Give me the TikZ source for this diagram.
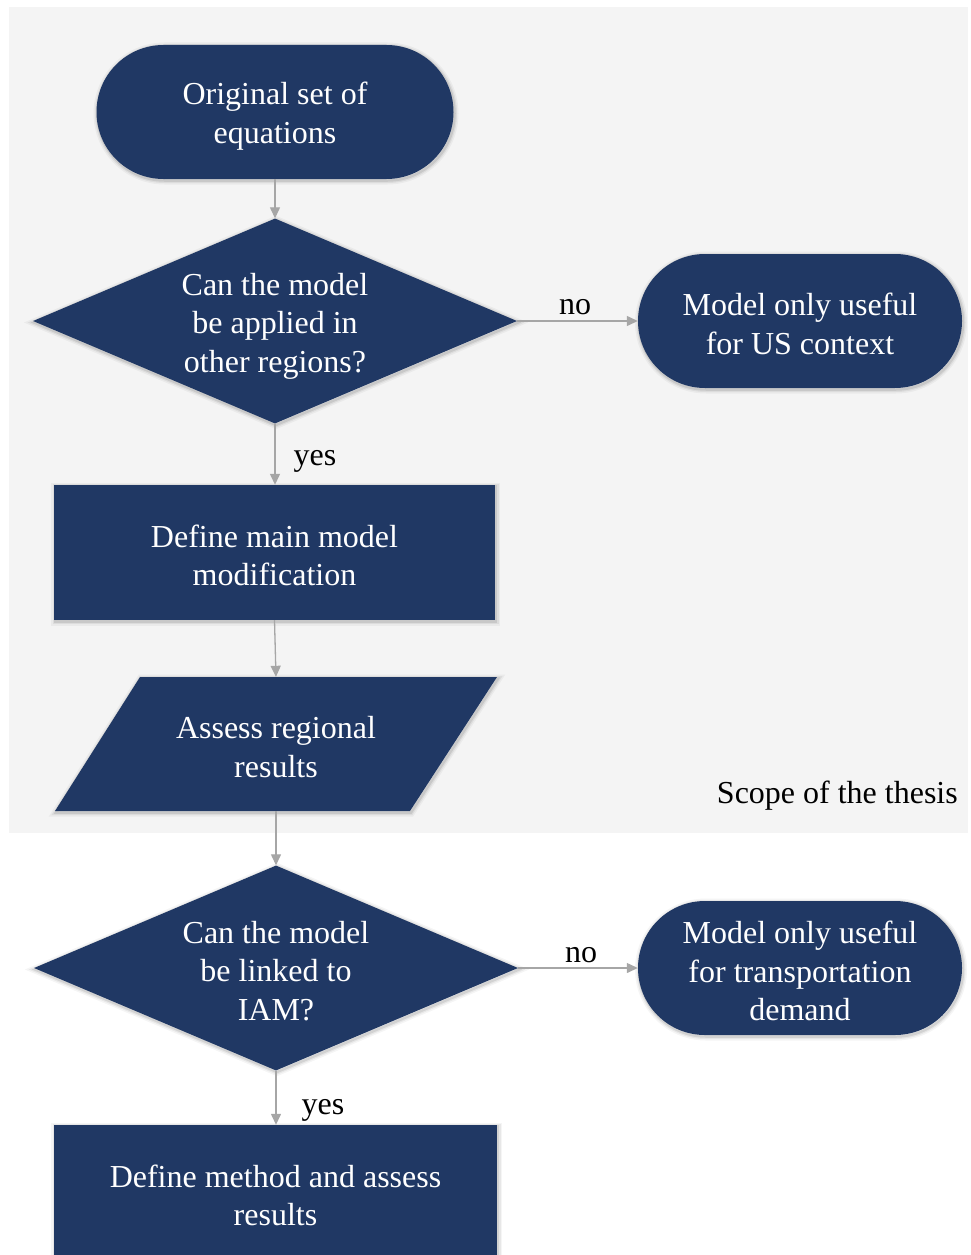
\documentclass[tikz,border=0pt]{standalone}
\usepackage{fontspec}
\setmainfont{Liberation Serif}
\usetikzlibrary{shapes.geometric,shapes.misc,arrows.meta}
\definecolor{navy}{HTML}{203864}
\definecolor{bggray}{HTML}{F4F4F4}
\definecolor{arrgray}{HTML}{A6A6A6}
\begin{document}
\begin{tikzpicture}[x=1pt,y=-1pt,
  every node/.style={font=\fontsize{32}{38.5}\selectfont},
  shadowed/.style={
    preaction={draw=black, draw opacity=0.04, line width=8pt, transform canvas={xshift=1pt,yshift=-1.5pt}},
    preaction={draw=black, draw opacity=0.06, line width=5pt, transform canvas={xshift=1pt,yshift=-1.5pt}},
    preaction={draw=black, draw opacity=0.09, line width=2.5pt, transform canvas={xshift=1pt,yshift=-1.5pt}}},
  shapebase/.style={fill=navy, inner sep=0pt, shadowed},
  term/.style={shapebase, rounded rectangle, rounded rectangle arc length=180, minimum height=134pt},
  procbox/.style={shapebase, rectangle, minimum height=135pt},
  decision/.style={shapebase, diamond, aspect=2.36, minimum width=484pt, minimum height=205pt},
  iobox/.style={rectangle, inner sep=0pt, minimum width=442pt, minimum height=134pt},
  intext/.style={text=white, align=center, inner sep=0pt, yshift=-3pt},
  conn/.style={draw=arrgray, line width=1.3pt, -{Triangle[length=11pt,width=10pt]}, fill=arrgray},
  lbl/.style={text=black, inner sep=0pt}
]
\useasboundingbox (0,0) rectangle (970,1255);
\clip (0,0) rectangle (970,1255);
\fill[bggray] (9,7) rectangle (968,833);

\node[term, minimum width=357pt] (t1) at (275,112) {};
\node[intext, yshift=-1pt] (t1txt) at (t1) {Original set of\\equations};
\node[decision] (d1) at (275,321) {};
\node[intext, yshift=-2pt] (d1txt) at (d1) {Can the model\\be applied in\\other regions?};
\node[term, minimum width=324pt] (t2) at (800,321) {};
\node[intext] (t2txt) at (t2) {Model only useful\\for US context};
\node[procbox, minimum width=441pt] (r1) at (274.5,552.5) {};
\node[intext] (r1txt) at (r1) {Define main model\\modification};
\fill[navy, shadowed] (140,677) -- (497,677) -- (410,811) -- (55,811) -- cycle;
\node[iobox] (p1) at (276,744) {};
\node[intext] (p1txt) at (p1) {Assess regional\\results};
\node[lbl, anchor=east] (scope) at (958,796) {Scope of the thesis};
\node[decision] (d2) at (276,968) {};
\node[intext] (d2txt) at (d2) {Can the model\\be linked to\\IAM?};
\node[term, minimum width=324pt] (t3) at (800,968) {};
\node[intext] (t3txt) at (t3) {Model only useful\\for transportation\\demand};
\node[procbox, minimum width=443pt] (r2) at (275.5,1192.5) {};
\node[intext] (r2txt) at (r2) {Define method and assess\\results};

\node[lbl] (no1) at (575,307) {no};
\node[lbl] (yes1) at (315,461) {yes};
\node[lbl] (no2) at (581,955) {no};
\node[lbl] (yes2) at (323,1110) {yes};

\draw[conn] (t1.south) -- (d1.north);
\draw[conn] (d1.east) -- (t2.west);
\draw[conn] (d1.south) -- (r1.north -| d1.south);
\draw[conn] (r1.south) -- (p1.north);
\draw[conn] (p1.south) -- (d2.north);
\draw[conn] (d2.east) -- (t3.west);
\draw[conn] (d2.south) -- (r2.north -| d2.south);
\end{tikzpicture}
\end{document}
